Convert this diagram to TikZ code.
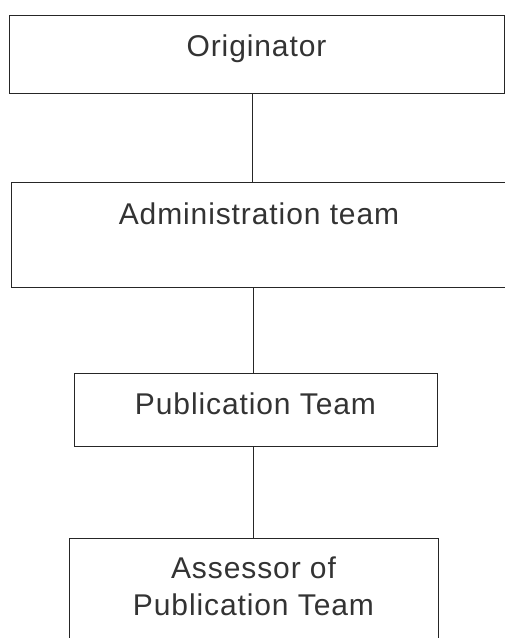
\documentclass[tikz,border=0pt]{standalone}
\usepackage{fontspec}
\usepackage{tikz}
\usetikzlibrary{calc}
\newfontfamily\boxfont{Liberation Sans}[LetterSpace=3.0]

\tikzset{
    teambox/.style={draw=black!85, line width=0.9pt, rectangle, inner sep=0pt,
        font=\boxfont\fontsize{30}{37}\selectfont, text=black!80,
        text height=22pt, align=center},
    link/.style={draw=black!85, line width=0.9pt}
}

\begin{document}
\begin{tikzpicture}[x=1pt, y=-1pt]

    \clip (0,0) rectangle (505,638);

    \node[teambox, minimum width=495pt, minimum height=78pt, text depth=18pt]
        (orig) at (256.5,54) {Originator};
    \node[teambox, minimum width=496pt, minimum height=105pt, text depth=43pt]
        (admin) at (259,234.5) {Administration team};
    \node[teambox, minimum width=363pt, minimum height=73pt, text depth=13pt]
        (pub) at (255.5,409.5) {Publication Team};
    \node[teambox, minimum width=369pt, minimum height=110pt, text height=58pt, text depth=13pt]
        (assess) at (253.5,593) {Assessor of\\Publication Team};

    \draw[link] ([xshift=-4.5pt]orig.south) -- ([xshift=-4.5pt]orig.south |- admin.north);
    \draw[link] ([xshift=-6pt]admin.south) -- ([xshift=-6pt]admin.south |- pub.north);
    \draw[link] ([xshift=-2.5pt]pub.south) -- ([xshift=-2.5pt]pub.south |- assess.north);
  \end{tikzpicture}
\end{document}
